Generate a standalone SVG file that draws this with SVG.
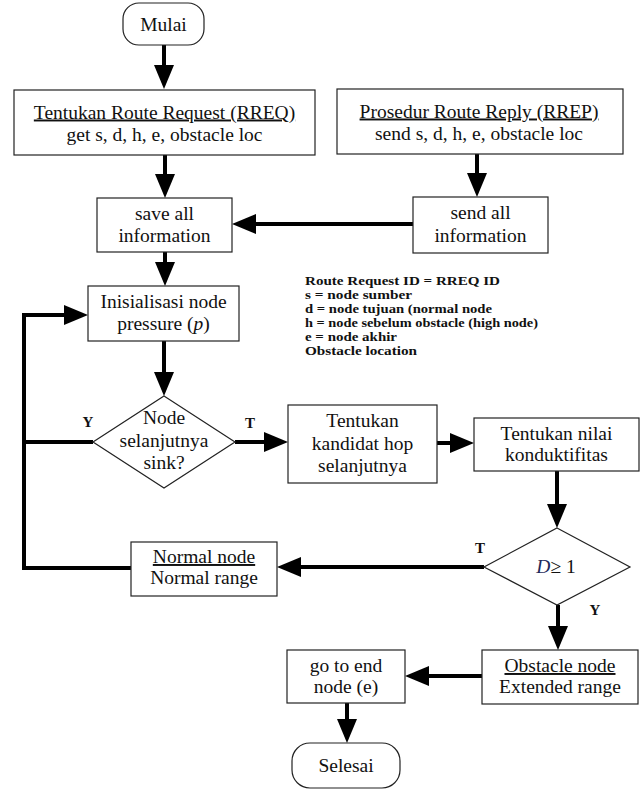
<svg xmlns="http://www.w3.org/2000/svg" width="642" height="791" viewBox="0 0 642 791">
<style>
.box{fill:#fff;stroke:#222;stroke-width:1.2}
.t{font-family:"Liberation Serif","Times New Roman",serif;font-size:19.5px;fill:#111;text-anchor:middle}
.u{text-decoration:underline}
.lbl{font-family:"Liberation Serif","Times New Roman",serif;font-size:15px;font-weight:bold;fill:#111;text-anchor:middle}
.leg{font-family:"Liberation Serif","Times New Roman",serif;font-size:13px;font-weight:bold;fill:#111}
.c{fill:none;stroke:#000;stroke-width:4}
</style>
<defs>
<marker id="ah" markerUnits="userSpaceOnUse" markerWidth="24" markerHeight="20" refX="14" refY="10" orient="auto">
<path d="M0,0 L24,10 L0,20 z" fill="#000"/>
</marker>
</defs>
<rect width="642" height="791" fill="#fff"/>
<g id="connectors">
<line class="c" x1="164" y1="45" x2="164" y2="79" marker-end="url(#ah)"/>
<line class="c" x1="165" y1="155" x2="165" y2="188" marker-end="url(#ah)"/>
<line class="c" x1="477" y1="154" x2="477" y2="187" marker-end="url(#ah)"/>
<line class="c" x1="413" y1="224" x2="242" y2="224" marker-end="url(#ah)"/>
<line class="c" x1="165" y1="252" x2="165" y2="276" marker-end="url(#ah)"/>
<line class="c" x1="164" y1="341" x2="164" y2="386" marker-end="url(#ah)"/>
<line class="c" x1="235" y1="442" x2="278" y2="442" marker-end="url(#ah)"/>
<line class="c" x1="437" y1="443" x2="464" y2="443" marker-end="url(#ah)"/>
<line class="c" x1="557" y1="471" x2="557" y2="518" marker-end="url(#ah)"/>
<line class="c" x1="484" y1="567" x2="287" y2="567" marker-end="url(#ah)"/>
<line class="c" x1="558" y1="605" x2="558" y2="640" marker-end="url(#ah)"/>
<line class="c" x1="482" y1="676" x2="415" y2="676" marker-end="url(#ah)"/>
<line class="c" x1="347" y1="703" x2="347" y2="733" marker-end="url(#ah)"/>
<polyline class="c" points="131,568 24,568 24,315 78,315" marker-end="url(#ah)"/>
<line class="c" x1="93" y1="442" x2="24" y2="442"/>
</g>
<g id="mulai">
<rect class="box" x="123" y="3" width="81" height="42" rx="16"/>
<text class="t" x="163.5" y="31">Mulai</text>
</g>
<g id="rreq">
<rect class="box" x="14" y="90" width="301" height="65"/>
<text class="t u" x="164.5" y="118.5">Tentukan Route Request (RREQ)</text>
<text class="t" x="164.5" y="140.5">get s, d, h, e, obstacle loc</text>
</g>
<g id="rrep">
<rect class="box" x="337" y="89" width="286" height="65"/>
<text class="t u" x="479" y="117.5">Prosedur Route Reply (RREP)</text>
<text class="t" x="479" y="139.5">send s, d, h, e, obstacle loc</text>
</g>
<g id="save">
<rect class="box" x="97" y="198" width="135" height="54"/>
<text class="t" x="164.5" y="220">save all</text>
<text class="t" x="164.5" y="242">information</text>
</g>
<g id="send">
<rect class="box" x="413" y="197" width="135" height="56"/>
<text class="t" x="480.5" y="219">send all</text>
<text class="t" x="480.5" y="242">information</text>
</g>
<g id="legend">
<text class="leg" x="305" y="285" textLength="195" lengthAdjust="spacingAndGlyphs">Route Request ID = RREQ ID</text>
<text class="leg" x="305" y="299" textLength="107" lengthAdjust="spacingAndGlyphs">s = node sumber</text>
<text class="leg" x="305" y="313" textLength="187" lengthAdjust="spacingAndGlyphs">d = node tujuan (normal node</text>
<text class="leg" x="305" y="327" textLength="233" lengthAdjust="spacingAndGlyphs">h = node sebelum obstacle (high node)</text>
<text class="leg" x="305" y="341" textLength="92" lengthAdjust="spacingAndGlyphs">e = node akhir</text>
<text class="leg" x="305" y="355" textLength="112" lengthAdjust="spacingAndGlyphs">Obstacle location</text>
</g>
<g id="init">
<rect class="box" x="88" y="286" width="151" height="55"/>
<text class="t" x="163.5" y="308">Inisialisasi node</text>
<text class="t" x="163.5" y="330">pressure (<tspan font-style="italic">p</tspan>)</text>
</g>
<g id="sink">
<polygon class="box" points="164,396 235,442 164,488 93,442"/>
<text class="t" x="164" y="424">Node</text>
<text class="t" x="164" y="447">selanjutnya</text>
<text class="t" x="164" y="469">sink?</text>
<text class="lbl" x="88" y="427">Y</text>
<text class="lbl" x="250" y="428">T</text>
</g>
<g id="kandidat">
<rect class="box" x="288" y="405" width="149" height="78"/>
<text class="t" x="362.5" y="427">Tentukan</text>
<text class="t" x="362.5" y="450">kandidat hop</text>
<text class="t" x="362.5" y="472">selanjutnya</text>
</g>
<g id="nilai">
<rect class="box" x="474" y="418" width="165" height="53"/>
<text class="t" x="556.5" y="440">Tentukan nilai</text>
<text class="t" x="556.5" y="461">konduktifitas</text>
</g>
<g id="dcheck">
<polygon class="box" points="557,528 630,567 557,605 484,567"/>
<text class="t" x="556" y="573"><tspan font-style="italic" fill="#1f2a5a">D</tspan>≥ 1</text>
<text class="lbl" x="480" y="553">T</text>
<text class="lbl" x="595" y="615">Y</text>
</g>
<g id="normal">
<rect class="box" x="131" y="542" width="146" height="54"/>
<text class="t u" x="204" y="563">Normal node</text>
<text class="t" x="204" y="584">Normal range</text>
</g>
<g id="obstacle">
<rect class="box" x="482" y="650" width="156" height="54"/>
<text class="t u" x="560" y="672">Obstacle node</text>
<text class="t" x="560" y="693">Extended range</text>
</g>
<g id="goto">
<rect class="box" x="287" y="650" width="118" height="53"/>
<text class="t" x="346" y="672">go to end</text>
<text class="t" x="346" y="693">node (e)</text>
</g>
<g id="selesai">
<rect class="box" x="292" y="743" width="108" height="45" rx="18"/>
<text class="t" x="346" y="772">Selesai</text>
</g>
</svg>
